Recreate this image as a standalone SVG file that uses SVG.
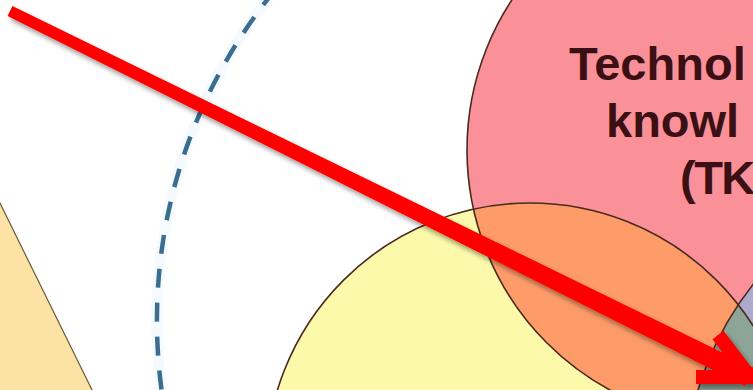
<svg xmlns="http://www.w3.org/2000/svg" width="753" height="390" viewBox="0 0 753 390">
  <defs>
    <style>
      .outline { fill: none; stroke: #4a2a1e; stroke-width: 1.6; }
      .label { font-family: "Liberation Sans", Arial, sans-serif; font-size: 47px; font-weight: bold; fill: #3b1014; }
      .arrow { fill: #ff0000; stroke: none; }
      .arrowhead { fill: none; stroke: #ff0000; stroke-width: 14; stroke-linejoin: miter; stroke-linecap: butt; }
    </style>
    <clipPath id="clipY"><circle cx="530" cy="467" r="264"/></clipPath>
    <clipPath id="clipR"><circle cx="740" cy="150" r="273"/></clipPath>
    <filter id="shadow" x="-10%" y="-10%" width="130%" height="140%">
      <feDropShadow dx="3" dy="4" stdDeviation="2.5" flood-color="#000000" flood-opacity="0.4"/>
    </filter>
  </defs>

  <rect x="0" y="0" width="753" height="390" fill="#ffffff"/>

  <g id="left-shape">
    <polygon points="-5,193 97,400 -5,400" fill="#fce2a4" stroke="#6b5a3a" stroke-width="1.2"/>
  </g>

  <g id="context-arc">
    <path d="M275,-10 A522,522 0 0 0 163,400" fill="none" stroke="#eaf5fb" stroke-width="11" opacity="0.5"/>
    <path d="M275,-10 A522,522 0 0 0 163,400" fill="none" stroke="#3b6d8e" stroke-width="4.5" stroke-dasharray="19 15"/>
  </g>

  <g id="yellow-circle">
    <circle cx="530" cy="467" r="264" fill="#fcfaaa"/>
  </g>

  <g id="tk-circle">
    <circle cx="740" cy="150" r="273" fill="#fa9198"/>
    <circle cx="740" cy="150" r="273" fill="#fd9b69" clip-path="url(#clipY)"/>
  </g>

  <g id="third-circle">
    <circle cx="1000" cy="480" r="315" fill="#aeaacb" clip-path="url(#clipR)"/>
    <g clip-path="url(#clipY)">
      <circle cx="1000" cy="480" r="315" fill="#8ca596" clip-path="url(#clipR)"/>
    </g>
  </g>

  <g id="outlines">
    <circle class="outline" cx="530" cy="467" r="264"/>
    <circle class="outline" cx="740" cy="150" r="273"/>
    <circle class="outline" cx="1000" cy="480" r="315"/>
  </g>

  <g id="tk-label">
    <text class="label" x="569" y="80">Technol</text>
    <text class="label" x="606" y="137">knowl</text>
    <text class="label" x="680" y="194" font-size="46" letter-spacing="-1.5">(TK</text>
  </g>

  <g id="connectors" filter="url(#shadow)">
    <polygon class="arrow" points="12.4,6.1 754,368 745,386 7.6,15.9"/>
    <polyline class="arrowhead" points="718,335 750,377 696,377"/>
  </g>
</svg>
